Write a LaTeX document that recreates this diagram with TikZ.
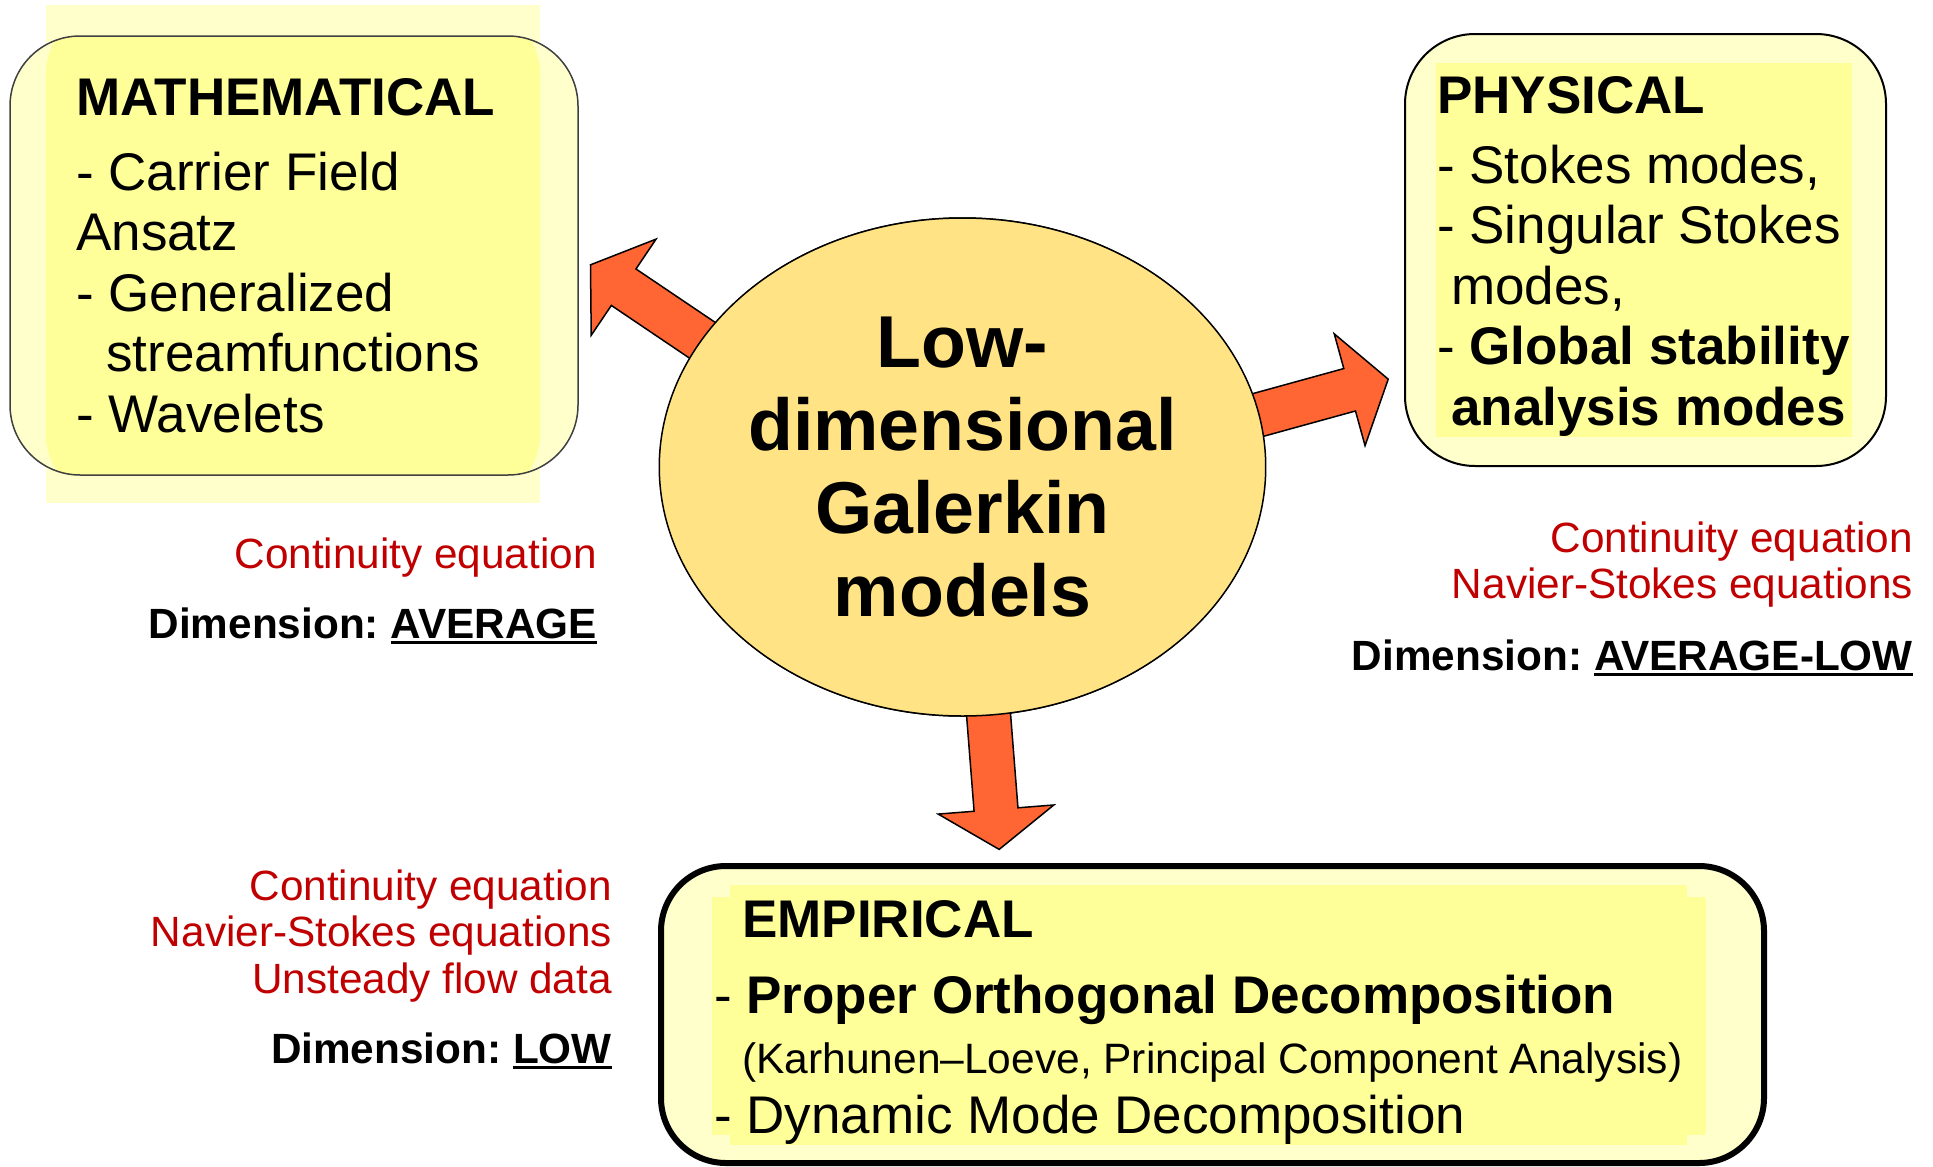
\documentclass[tikz,border=0pt]{standalone}
\usepackage{fontspec}
\setmainfont{Liberation Sans}
\usepackage{tikz}
\usetikzlibrary{positioning,shapes.geometric}
\definecolor{PaleYellow}{HTML}{FFFFCC}
\definecolor{BrightYellow}{HTML}{FFFF99}
\definecolor{CoreGold}{HTML}{FFE384}
\definecolor{ArrowOrange}{HTML}{FF6633}
\definecolor{EqRed}{HTML}{C00000}

% 下划线：线稍低、稍粗
\newsavebox\ulbox
\newcommand{\ulword}[1]{\sbox\ulbox{#1}\rlap{\rule[-5.5pt]{\wd\ulbox}{2.6pt}}\usebox\ulbox}
% 粗箭头：起点锚点、方向角
\newcommand{\blockarrow}[2]{%
  \draw[fatarrow, shift={(#1)}, rotate=#2]
    (-15,-22) -- (94,-22) -- (94,-58) -- (134,0) -- (94,58) -- (94,22) -- (-15,22) -- cycle;
}

\begin{document}
\frenchspacing
\begin{tikzpicture}[
    x=1pt, y=-1pt,
    panel/.style={rectangle, rounded corners=#1, inner sep=0pt, fill=PaleYellow},
    frame/.style={rectangle, inner sep=0pt, fill=#1},
    % 字间距用字体自带的空格宽度
    plainspace/.style={execute at begin node={\spaceskip=0pt\xspaceskip=0pt}},
    listtext/.style={anchor=base west, text width=#1, align=flush left, inner sep=0pt, plainspace, font=\fontsize{53}{60.5}\selectfont},
    eqlabel/.style={anchor=base east, text width=760pt, align=flush right, inner sep=0pt, plainspace, font=\fontsize{42.3}{46.5}\selectfont},
    hub/.style={ellipse, draw=black, line width=1.5pt, fill=CoreGold, inner sep=0pt, minimum width=605pt, minimum height=498pt, align=center, font=\fontsize{73.5}{83}\selectfont\bfseries},
    fatarrow/.style={draw=black, line width=1.5pt, fill=ArrowOrange, line join=miter}
]
\useasboundingbox (0,0) rectangle (1933,1167);

% 左上：数学类基函数
\node[frame=PaleYellow, minimum width=494pt, minimum height=498pt] (mathframe) at (293,254) {};
\node[panel=70pt, draw=black!75, line width=1.5pt, minimum width=568pt, minimum height=439pt,
      path picture={\fill[BrightYellow] (mathframe.south west) rectangle (mathframe.north east);}] (mathbox) at (294,255.5) {};
\node[listtext=480pt] (mathtext) at (76,115) {\textbf{MATHEMATICAL}\\[14.5pt]
  - Carrier Field\\
  Ansatz\\
  - Generalized\\
  \hspace*{30pt}streamfunctions\\
  - Wavelets};

% 右上：物理类模态
\node[panel=70pt, draw=black, line width=2pt, minimum width=481pt, minimum height=432pt] (physbox) at (1645.5,250) {};
\node[frame=BrightYellow, minimum width=416pt, minimum height=374pt] (physframe) at (1644,250) {};
\node[listtext=440pt] (phystext) at (1437,113) {\textbf{PHYSICAL}\\[9.5pt]
  - Stokes modes,\\
  - Singular Stokes\\
  \hspace*{14pt}modes,\\
  - \textbf{Global stability}\\
  \hspace*{14pt}\textbf{analysis modes}};

% 下方：经验模态
\node[panel=65pt, draw=black, line width=6pt, minimum width=1103pt, minimum height=297pt] (empbox) at (1212.5,1014.5) {};
\node[frame=BrightYellow, minimum width=957pt, minimum height=260pt] (empframe) at (1208.5,1015) {};
\node[frame=BrightYellow, minimum width=994pt, minimum height=238pt] (empinner) at (1209,1016) {};
\node[listtext=1000pt, font=\fontsize{53}{60}\selectfont] (emptext) at (714,937) {\hspace*{28pt}\textbf{EMPIRICAL}\\[16pt]
  - \textbf{Proper Orthogonal Decomposition}\\
  \hspace*{28pt}{\fontsize{42.5}{60}\selectfont (Karhunen–Loeve, Principal Component Analysis)}\\
  - Dynamic Mode Decomposition};

% 三个粗箭头，尾部压在椭圆下面
\coordinate (hubpos) at (962.5,467);
\path (hubpos) node[hub] (core) {};
\blockarrow{core.154}{146}
\blockarrow{core.10}{15.4}
\blockarrow{core.276}{-85.5}
\node[hub] (core) at (hubpos) {Low-\\dimensional\\Galerkin\\models};

% 方程与维数说明
\node[eqlabel] (mathnote) at (597,568) {\textcolor{EqRed}{Continuity equation}\\[23.5pt]
  \textbf{Dimension: \ulword{AVERAGE}}};
\node[eqlabel] (physnote) at (1913,552) {\textcolor{EqRed}{Continuity equation\\ Navier-Stokes equations}\\[25.5pt]
  \textbf{Dimension: \ulword{AVERAGE-LOW}}};
\node[eqlabel] (empnote) at (612,900) {\textcolor{EqRed}{Continuity equation\\ Navier-Stokes equations\\ Unsteady flow data}\\[24pt]
  \textbf{Dimension: \ulword{LOW}}};
\end{tikzpicture}
\end{document}
